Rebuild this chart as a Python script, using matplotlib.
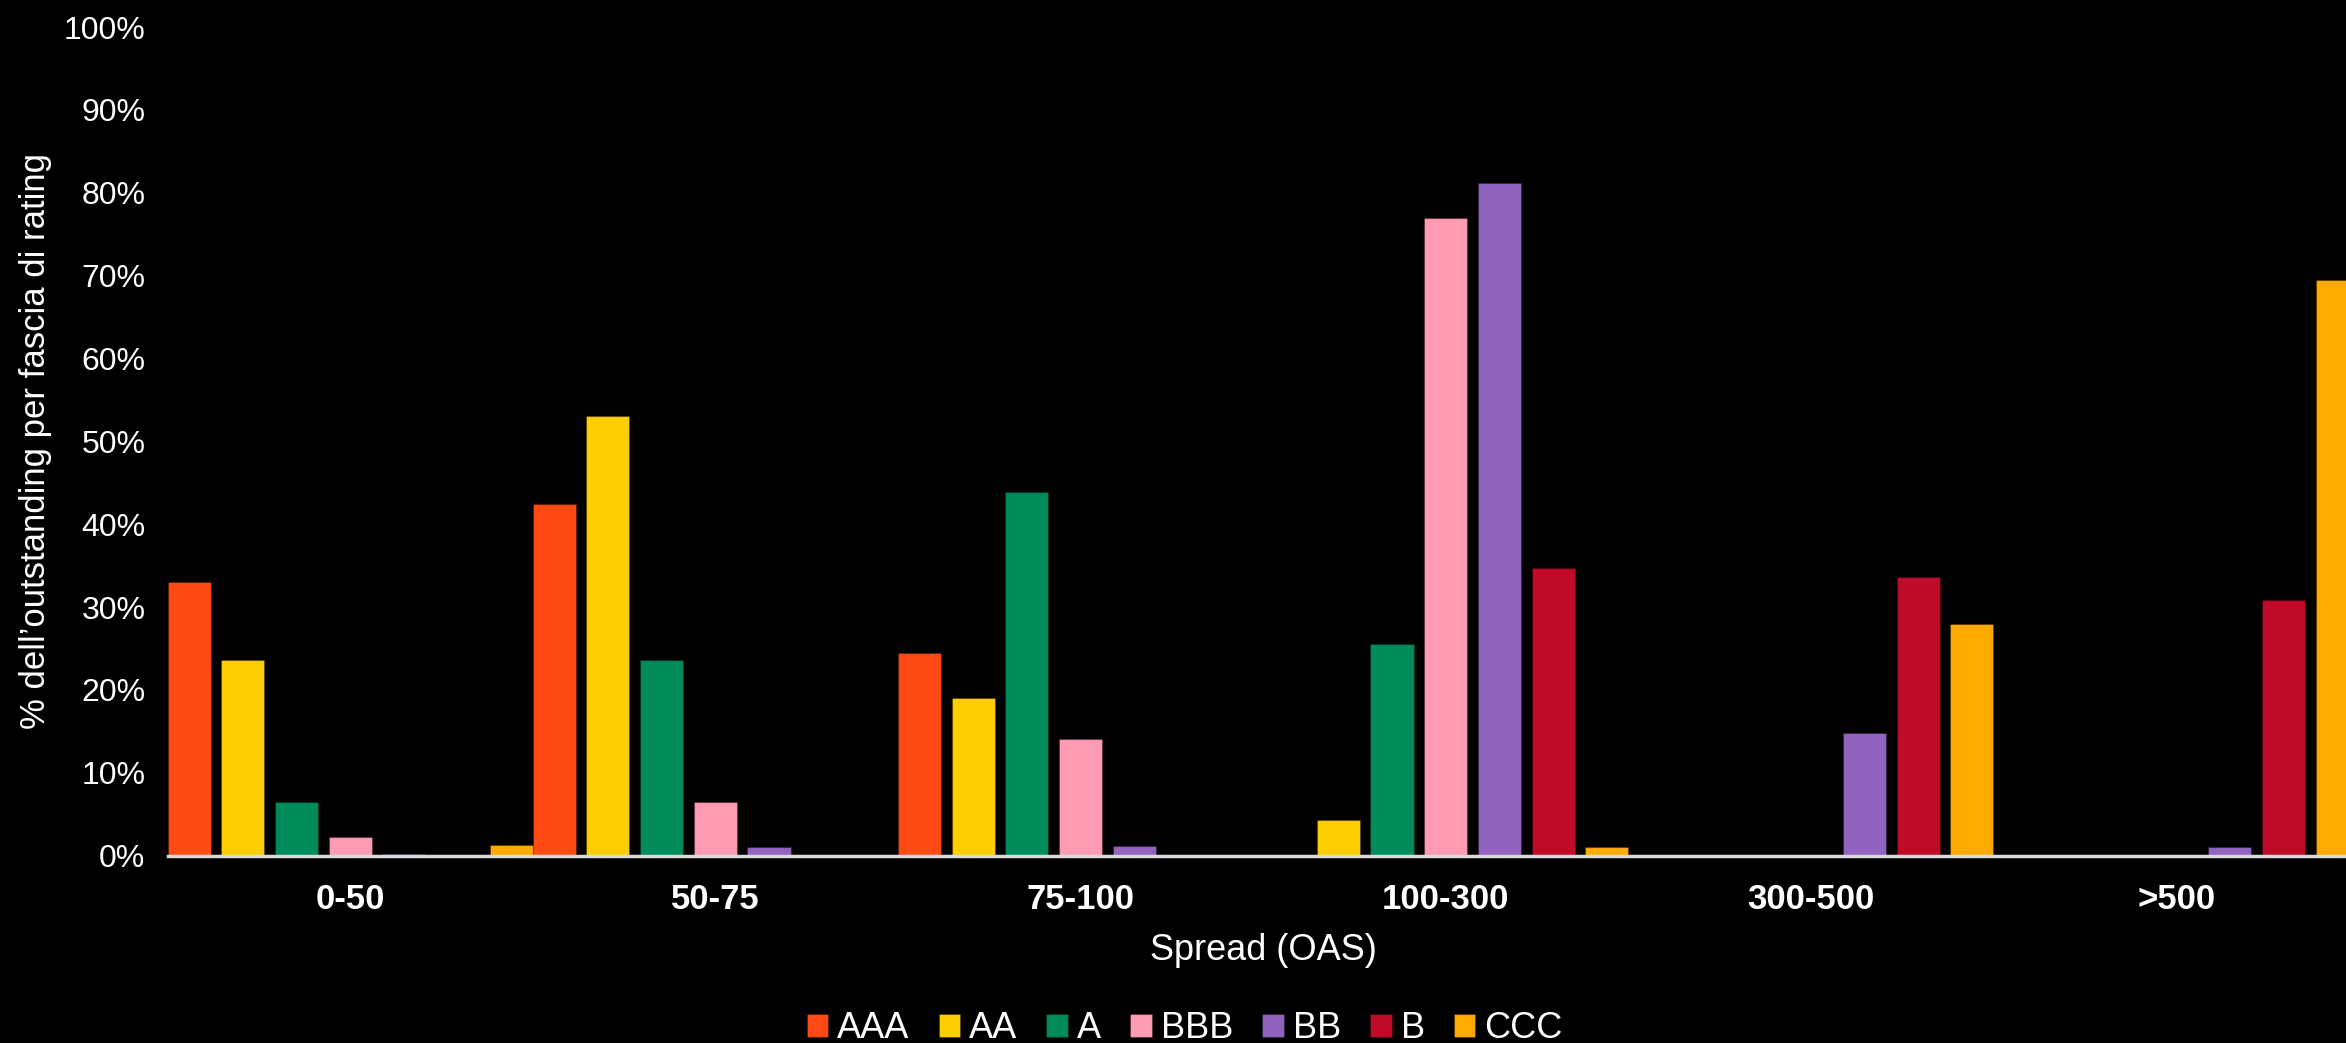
import numpy as np
import matplotlib.pyplot as plt
from matplotlib.ticker import PercentFormatter

# spread buckets and rating bands
buckets = ['0-50', '50-75', '75-100', '100-300', '300-500', '>500']
ratings = ['AAA', 'AA', 'A', 'BBB', 'BB', 'B', 'CCC']

# share of each rating band's outstanding in every spread bucket (%)
aaa = [33.0, 42.4, 24.4, 0.0, 0.0, 0.0]
aa = [23.6, 53.1, 19.0, 4.3, 0.0, 0.0]
a = [6.5, 23.6, 43.9, 25.6, 0.0, 0.0]
bbb = [2.2, 6.5, 14.1, 76.9, 0.0, 0.0]
bb = [0.2, 1.1, 1.2, 81.2, 14.8, 1.1]
b = [0.0, 0.0, 0.0, 34.7, 33.6, 30.9]
ccc = [1.3, 0.0, 0.0, 1.1, 28.0, 69.5]

colors = ['#FF4A14', '#FFCE00', '#008C5A', '#FF9BB3', '#9163BE', '#C00B28', '#FFAA00']

plt.rcParams['font.family'] = ['Liberation Sans', 'DejaVu Sans']

fig = plt.figure(figsize=(23.46, 10.43), dpi=100, facecolor='black')
ax = fig.add_axes([0.0714, 0.1796, 0.934, 0.7945])
ax.set_facecolor('black')

x = np.arange(len(buckets))
width = 0.118
step = 0.147
for i, (name, vals) in enumerate(zip(ratings, [aaa, aa, a, bbb, bb, b, ccc])):
    pos = x - 0.5 + width / 2 + i * step
    ax.bar(pos, vals, width=width, color=colors[i], label=name,
           edgecolor='#00000040', linewidth=0.8)

ax.set_xlim(-0.5, len(buckets) - 0.5)
ax.set_ylim(0, 100)
ax.set_yticks(np.arange(0, 101, 10))
ax.yaxis.set_major_formatter(PercentFormatter(decimals=0))
ax.set_xticks(x)
ax.set_xticklabels(buckets, fontweight='bold', fontsize=25)

for side in ['top', 'right', 'left']:
    ax.spines[side].set_visible(False)
ax.spines['bottom'].set_color('#D9D9D9')
ax.spines['bottom'].set_linewidth(2.5)
ax.tick_params(axis='both', length=0, colors='white')
ax.tick_params(axis='y', labelsize=23, pad=16)
ax.tick_params(axis='x', pad=20)

ax.set_xlabel('Spread (OAS)', color='white', fontsize=26, labelpad=12)
ax.set_ylabel('% dell\u2019outstanding per fascia di rating', color='white',
              fontsize=25, labelpad=8)

leg = fig.legend(loc='center', bbox_to_anchor=(0.505, 0.014), ncol=7,
                 frameon=False, fontsize=26, handlelength=0.6, handleheight=0.6,
                 handletextpad=0.25, columnspacing=0.8, labelcolor='white')

fig.savefig('out.png', dpi=100, facecolor='black')
